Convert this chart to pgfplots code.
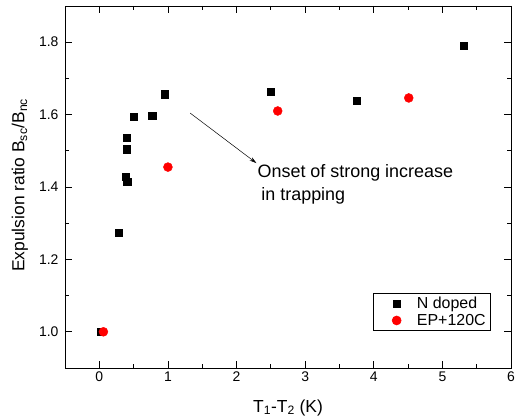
\documentclass[border=0pt]{standalone}
\usepackage{pgfplots}
\pgfplotsset{compat=1.18}
\usepackage{fontspec}
\setmainfont{Liberation Sans}
\usetikzlibrary{arrows.meta}

\pgfplotstableread{
x y
0.02 1.000
0.28 1.274
0.385 1.428
0.405 1.414
0.40 1.504
0.40 1.537
0.50 1.594
0.77 1.597
0.956 1.656
2.50 1.664
3.75 1.639
5.31 1.791
}\ndoped

\pgfplotstableread{
x y
0.06 1.000
1.00 1.455
2.60 1.610
4.51 1.646
}\epbake

\begin{document}
\begin{tikzpicture}
\useasboundingbox (-65bp,-52bp) rectangle (451bp,368bp);
\begin{axis}[
  scale only axis,
  width=446bp, height=362bp,
  xmin=-0.5, xmax=6,
  ymin=0.9, ymax=1.9,
  xtick={0,1,2,3,4,5,6},
  ytick={1.0,1.2,1.4,1.6,1.8},
  minor x tick num=1,
  minor y tick num=1,
  tick align=inside,
  major tick length=7bp,
  minor tick length=4bp,
  every tick/.style={black, line width=0.8pt},
  axis line style={line width=0.9pt},
  /pgf/number format/assume math mode=true,
  yticklabel style={/pgf/number format/fixed, /pgf/number format/precision=1, /pgf/number format/fixed zerofill, xshift=-3bp},
  ticklabel style={font=\fontsize{14}{16}\selectfont},
  xlabel={T\textsubscript{1}-T\textsubscript{2} (K)},
  ylabel={Expulsion ratio B\textsubscript{sc}/B\textsubscript{nc}},
  label style={font=\fontsize{17.5}{20}\selectfont},
  xlabel style={at={(axis description cs:0.5,-0.11)}, anchor=center},
  ylabel style={at={(axis description cs:-0.101,0.505)}, anchor=center, rotate=0},
  legend image code/.code={%
    \path (0bp,0bp) (38bp,0bp);
    \draw[#1] plot coordinates {(20bp,0bp)};},
  legend style={at={(axis description cs:0.955,0.102)}, anchor=south east,
    font=\fontsize{16}{19}\selectfont, draw=black, line width=0.6pt,
    row sep=0bp, inner xsep=3bp, inner ysep=2bp},
  legend cell align=left,
]
\addplot[only marks, mark=square*, mark size=3.7bp, black] table {\ndoped};
\addlegendentry{N doped}
\addplot[only marks, mark=*, mark size=4.5bp, red, fill=red] table {\epbake};
\addlegendentry{EP+120C}
\draw[-{Stealth[length=7bp,width=4bp]}, line width=0.5pt] (axis cs:1.326,1.604) -- (axis cs:2.29,1.466);
\node[anchor=base west, inner sep=0, font=\fontsize{18}{21}\selectfont] at (axis cs:2.305,1.425) {Onset of strong increase};
\node[anchor=base west, inner sep=0, font=\fontsize{18}{21}\selectfont] at (axis cs:2.36,1.364) {in trapping};
\end{axis}
\end{tikzpicture}
\end{document}
